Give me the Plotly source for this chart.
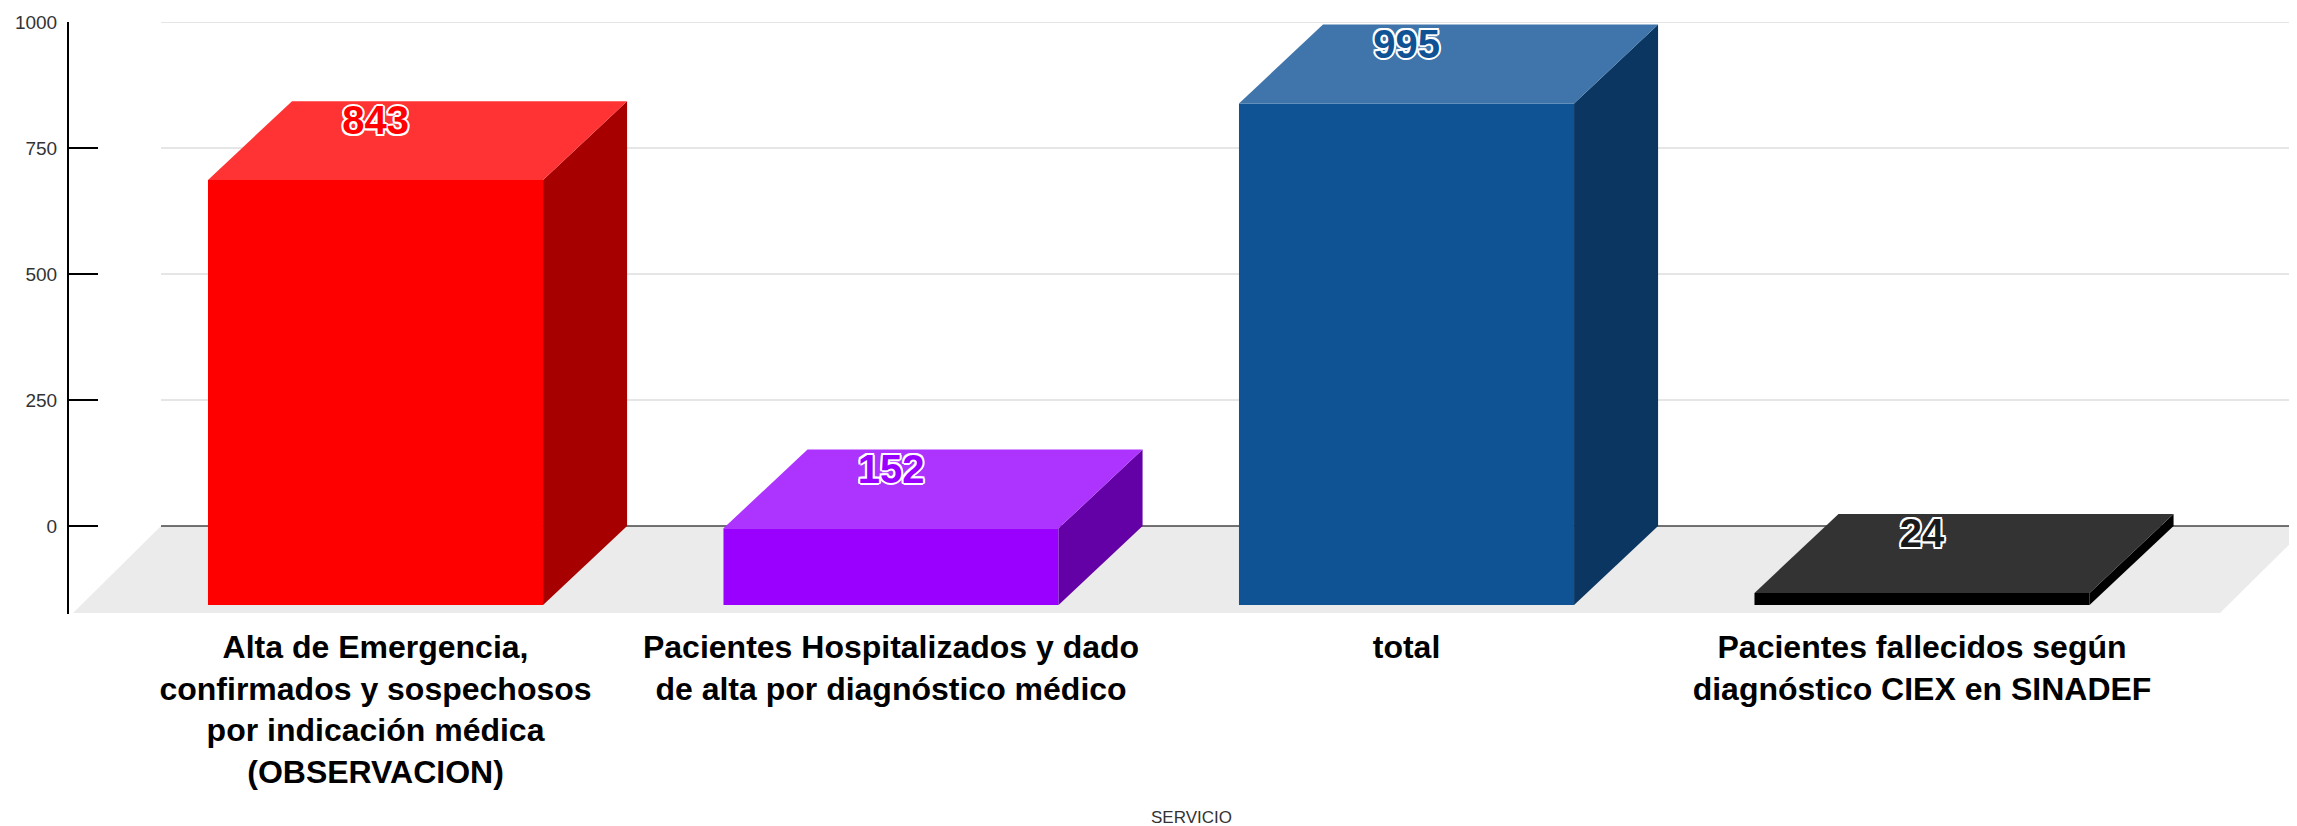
import plotly.graph_objects as go

# ---------------- data ----------------
categories = [
    "Alta de Emergencia,<br>confirmados y sospechosos<br>por indicación médica<br>(OBSERVACION)",
    "Pacientes Hospitalizados y dado<br>de alta por diagnóstico médico",
    "total",
    "Pacientes fallecidos según<br>diagnóstico CIEX en SINADEF",
]
values = [843, 152, 995, 24]
bar_colors = ["#FF0000", "#9900FF", "#0F5395", "#000000"]
y_ticks = [0, 250, 500, 750, 1000]
x_title = "SERVICIO"

# ---------------- geometry (3D look) ----------------
PX_PER_CAT = 515.5
PLOT_W = 2236
X_MIN = -0.5946
X_MAX = X_MIN + PLOT_W / PX_PER_CAT
Y_MIN, Y_MAX = -174.6, 1000
BW = 0.65          # front face width (category units)
DX = 0.163         # depth offset in x (category units)
DY = 156.7         # depth offset in y (value units)
FLOOR_BACK_LEFT = -0.4161
FLOOR_FRONT_RIGHT = 3.578
FLOOR_DX = 0.1707
FLOOR_DY = 172.6
LABEL_OFF = 46     # label centre below back-top edge (value units)


def mix(hexcol, factor, toward=255):
    h = hexcol.lstrip("#")
    rgb = [int(h[k:k + 2], 16) for k in (0, 2, 4)]
    if toward is None:
        out = [round(c * factor) for c in rgb]
    else:
        out = [round(c * (1 - factor) + toward * factor) for c in rgb]
    return "#%02X%02X%02X" % tuple(max(0, min(255, c)) for c in out)


fig = go.Figure()


def poly(xs, ys, color):
    fig.add_trace(go.Scatter(
        x=list(xs) + [xs[0]], y=list(ys) + [ys[0]],
        mode="lines", fill="toself", fillcolor=color,
        line=dict(width=0, color=color), hoverinfo="skip", showlegend=False))


# floor
poly([FLOOR_BACK_LEFT, FLOOR_FRONT_RIGHT + FLOOR_DX, FLOOR_FRONT_RIGHT, FLOOR_BACK_LEFT - FLOOR_DX],
     [0, 0, -FLOOR_DY, -FLOOR_DY], "#EBEBEB")

# grid lines (back wall)
for t in y_ticks:
    fig.add_trace(go.Scatter(
        x=[FLOOR_BACK_LEFT, X_MAX + 0.5], y=[t, t], mode="lines",
        line=dict(color="#444444" if t == 0 else "#CCCCCC", width=1.4 if t == 0 else 1),
        hoverinfo="skip", showlegend=False))

# bars
for i, (v, c) in enumerate(zip(values, bar_colors)):
    xl, xr = i - BW / 2, i + BW / 2
    top_c = mix(c, 0.2, 255)
    side_c = mix(c, 0.65, None)
    poly([xl, xr, xr, xl], [-DY, -DY, v - DY, v - DY], c)                 # front
    poly([xr, xr + DX, xr + DX, xr], [-DY, 0, v, v - DY], side_c)         # side
    poly([xl, xr, xr + DX, xl + DX], [v - DY, v - DY, v, v], top_c)       # top

# value labels
outline = ", ".join(f"{a}px {b}px 0 #FFFFFF" for a, b in
                    [(-1.6, -1.6), (1.6, -1.6), (-1.6, 1.6), (1.6, 1.6),
                     (0, 2), (0, -2), (2, 0), (-2, 0)])
fig.add_trace(go.Scatter(
    x=list(range(len(values))), y=[v - LABEL_OFF for v in values],
    mode="text", text=[str(v) for v in values], textposition="middle center",
    textfont=dict(family="Liberation Sans, Arial", size=40, weight="bold",
                  color=[c if c != "#000000" else "#1A1A1A" for c in bar_colors],
                  shadow=outline),
    hoverinfo="skip", showlegend=False, cliponaxis=False))

fig.update_layout(
    width=2297, height=826,
    margin=dict(l=61, r=0, t=14, b=220),
    plot_bgcolor="#FFFFFF", paper_bgcolor="#FFFFFF",
    showlegend=False,
    xaxis=dict(range=[X_MIN, X_MAX], tickmode="array",
               tickvals=list(range(len(categories))), ticktext=categories,
               showgrid=False, zeroline=False, showline=False, ticks="",
               tickfont=dict(family="Liberation Sans, Arial", size=32, color="#000000", weight="bold"),
               ticklabelstandoff=11, fixedrange=True),
    yaxis=dict(range=[Y_MIN, Y_MAX], tickmode="array", tickvals=y_ticks,
               showgrid=False, zeroline=False, showline=True, linecolor="#000000", linewidth=2,
               ticks="inside", ticklen=29, tickwidth=1.5, tickcolor="#000000",
               tickfont=dict(family="Liberation Sans, Arial", size=19, color="#333333"),
               ticklabelstandoff=6, fixedrange=True),
    annotations=[dict(text=x_title, xref="paper", yref="paper",
                      x=(1191 - 69) / PLOT_W, y=(614 - 817) / 592,
                      xanchor="center", yanchor="middle", showarrow=False,
                      font=dict(family="Liberation Sans, Arial", size=17, color="#333333"))],
)

fig.write_html("out.html", config={"displayModeBar": False})
